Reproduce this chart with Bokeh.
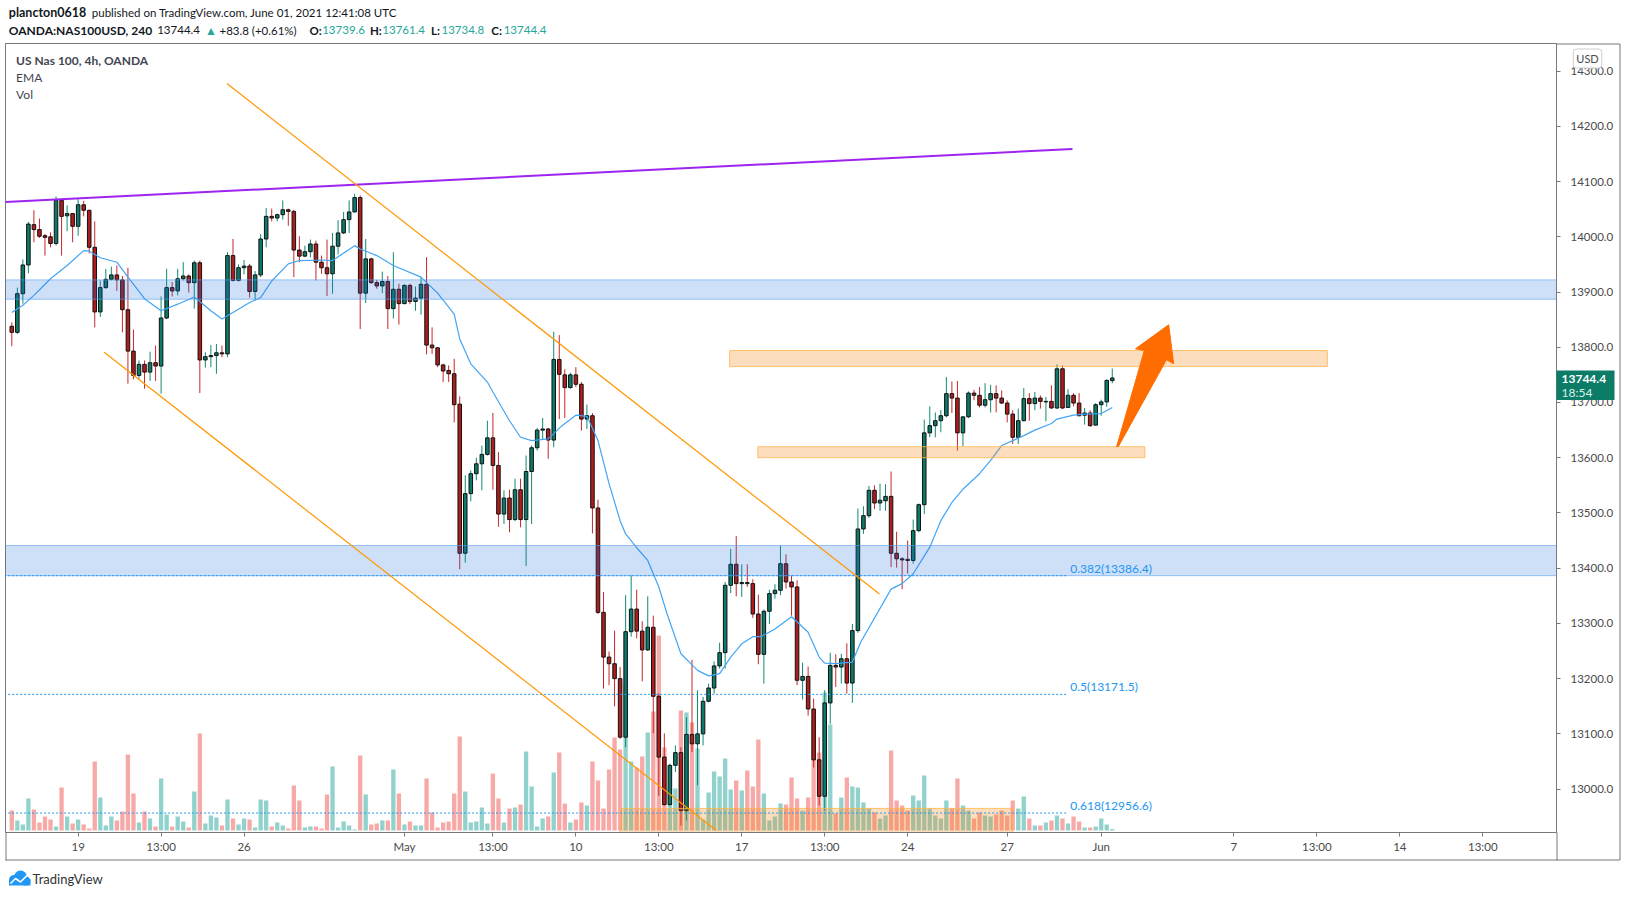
import numpy as np
from bokeh.plotting import figure
from bokeh.models import (Range1d, FixedTicker, PrintfTickFormatter, Label,
                          ColumnDataSource, GridBox)
from bokeh.embed import file_html
from bokeh.resources import INLINE

FONT = "Lato"

# ---------------- data (4h candles, 0-based bar index) ----------------
opens = [13838,13827,13897,13949,14022,14013,14002,14000,13988,14066,
         14038,14042,14019,14058,14048,13981,13864,13908,13923,13931,
         13922,13868,13793,13749,13769,13755,13772,13766,13853,13908,
         13902,13924,13929,13917,13953,13777,13783,13785,13790,13788,
         13966,13921,13944,13947,13901,13931,13996,14037,14034,14040,
         14049,14046,13976,13965,13973,13987,13954,13944,13933,13983,
         14007,14031,14045,14071,13898,13960,13917,13911,13919,13870,
         13905,13879,13912,13883,13889,13914,13804,13799,13768,13758,
         13752,13697,13427,13535,13571,13589,13606,13636,13586,13498,
         13527,13488,13542,13488,13575,13618,13650,13652,13632,13778,
         13750,13727,13750,13733,13670,13676,13509,13320,13239,13227,
         13200,13094,13285,13326,13286,13252,13293,13168,13058,12972,
         13043,13066,12961,13099,13082,13100,13159,13183,13223,13247,
         13369,13407,13372,13374,13372,13317,13244,13322,13354,13360,
         13408,13375,13366,13197,13204,13145,13053,12987,13156,13224,
         13221,13236,13192,13287,13471,13495,13541,13518,13522,13530,
         13427,13417,13416,13414,13468,13515,13645,13658,13667,13676,
         13716,13708,13645,13674,13717,13713,13695,13705,13716,13708,
         13699,13679,13637,13667,13707,13698,13708,13701,13702,13690,
         13761,13691,13713,13699,13677,13681,13659,13696,13701,13739.6]
highs = [13845,13908,13959,14027,14048,14033,14005,14008,14073,14067,
         14057,14043,14068,14065,14049,14028,13921,13942,13946,13948,
         13929,13944,13832,13776,13776,13792,13803,13892,13942,13918,
         13942,13954,13932,13957,13957,13791,13804,13806,13803,13972,
         13996,13950,13958,13951,13938,14005,14052,14051,14042,14066,
         14051,14049,14001,13984,13995,13993,13966,13995,14007,14030,
         14045,14066,14078,14075,13996,13962,13922,13937,13929,13972,
         13915,13914,13915,13910,13927,13963,13836,13800,13770,13767,
         13779,13711,13568,13577,13600,13622,13667,13681,13610,13541,
         13542,13562,13562,13604,13622,13654,13672,13654,13828,13822,
         13760,13754,13764,13737,13696,13681,13524,13357,13249,13287,
         13221,13351,13387,13361,13304,13349,13314,13173,13101,13046,
         13079,13076,13130,13234,13179,13167,13191,13231,13265,13375,
         13435,13458,13407,13407,13380,13352,13325,13361,13371,13441,
         13425,13387,13378,13229,13222,13164,13094,13179,13247,13244,
         13245,13264,13299,13508,13512,13549,13550,13553,13552,13575,
         13466,13420,13450,13488,13517,13669,13693,13682,13686,13746,
         13738,13739,13675,13720,13723,13728,13735,13732,13731,13722,
         13704,13686,13689,13726,13717,13719,13713,13710,13731,13769,
         13767,13724,13717,13717,13690,13686,13699,13705,13742,13761.4]
lows = [13802,13824,13879,13934,13990,13998,13966,13981,13984,13966,
        14010,13990,14002,14037,13970,13836,13855,13906,13921,13902,
        13827,13734,13742,13743,13725,13739,13739,13716,13851,13892,
        13894,13921,13899,13870,13717,13763,13764,13752,13782,13782,
        13919,13919,13932,13890,13885,13927,13981,14028,14028,14031,
        14020,13927,13954,13963,13963,13921,13933,13893,13897,13968,
        14005,14007,14044,13833,13880,13915,13906,13898,13833,13852,
        13841,13878,13878,13866,13859,13787,13788,13764,13737,13737,
        13664,13398,13410,13521,13559,13541,13604,13542,13475,13480,
        13465,13485,13474,13404,13480,13613,13634,13598,13619,13670,
        13672,13725,13728,13649,13652,13463,13317,13182,13188,13150,
        13091,13076,13276,13273,13195,13250,13101,12988,12970,12970,
        13031,12934,12943,13067,13007,13079,13157,13173,13218,13218,
        13355,13349,13348,13366,13310,13226,13191,13299,13345,13351,
        13363,13314,13188,13162,13133,13039,12970,12961,13118,13185,
        13191,13173,13156,13283,13462,13491,13507,13504,13504,13402,
        13401,13362,13390,13408,13465,13498,13637,13637,13646,13673,
        13681,13613,13621,13672,13704,13691,13691,13682,13682,13697,
        13664,13625,13625,13666,13667,13686,13689,13666,13689,13688,
        13688,13690,13693,13675,13660,13656,13658,13676,13692,13734.8]
closes = [13827,13897,13949,14023,14013,14001,13999,13988,14066,14037,
          14042,14019,14058,14048,13981,13864,13908,13923,13931,13922,
          13868,13793,13749,13769,13755,13772,13766,13853,13908,13902,
          13924,13929,13917,13953,13777,13783,13785,13790,13788,13966,
          13921,13944,13947,13901,13931,13996,14037,14034,14040,14049,
          14046,13976,13965,13973,13987,13954,13944,13933,13983,14007,
          14031,14045,14071,13898,13960,13917,13911,13919,13870,13905,
          13879,13912,13883,13889,13914,13804,13799,13768,13757,13752,
          13696,13427,13535,13571,13589,13606,13636,13586,13498,13527,
          13488,13542,13488,13575,13618,13650,13652,13632,13778,13751,
          13727,13750,13733,13670,13676,13509,13320,13239,13227,13200,
          13094,13285,13326,13286,13252,13293,13168,13058,12972,13043,
          13066,12961,13099,13082,13100,13159,13183,13223,13247,13369,
          13407,13372,13374,13372,13317,13244,13322,13354,13360,13408,
          13375,13366,13197,13204,13145,13053,12987,13156,13224,13221,
          13236,13192,13287,13471,13495,13541,13518,13523,13530,13427,
          13417,13415,13414,13468,13515,13645,13658,13667,13676,13716,
          13708,13645,13674,13717,13713,13695,13705,13716,13708,13699,
          13679,13637,13667,13707,13698,13708,13702,13702,13690,13761,
          13690,13713,13699,13676,13681,13658,13696,13701,13740,13744.4]
volumes = [2000,1000,600,3200,2100,800,1400,1100,400,4300,
           1400,700,1100,600,200,6900,3300,500,1400,1000,
           1900,7600,3700,800,1900,1200,400,5200,1600,400,
           1400,900,300,3900,9700,700,1500,1300,500,3100,
           1200,600,1200,1100,300,3100,3000,400,800,500,
           200,4500,3000,300,400,400,200,3600,6400,300,
           900,500,100,7500,3600,600,700,1000,1000,6100,
           3700,600,900,500,500,5200,1800,300,800,900,
           3700,9400,3900,800,900,2300,700,5700,3200,800,
           2200,2300,2600,7900,4400,400,1200,1400,5800,7800,
           2700,800,1100,2800,2500,6900,5000,2200,6100,9300,
           8100,14500,6900,6300,7400,9800,11900,19500,8300,4200,
           4200,12000,11800,10800,8200,1100,3800,5900,5400,7200,
           4100,5000,4000,6000,4400,9100,3700,1000,1400,2700,
           2600,5300,3200,2000,3300,11100,7800,13800,10600,1700,
           3300,5300,4400,4300,2800,2200,1800,1200,1500,8000,
           3000,2500,2000,3500,3000,5500,2200,1500,1200,3000,
           2200,5200,2500,2000,1200,1800,1500,1400,1600,2000,
           1500,3000,2200,3400,1200,500,500,800,1000,1500,
           1200,700,1400,900,300,300,400,1200,600,150]

# EMA line, read at sample bars
ema_idx = [0,2,4,7,10,13,14,16,19,21,24,27,30,33,36,38,40,43,45,47,50,52,56,58,
           62,63,66,69,74,77,80,81,83,86,87,90,92,94,97,99.5,102,104,106,108,
           110,111,113,115,117,118.5,121,124,126,128,130,132,134,135.5,138,141,
           144,146,147,149,152,153.5,159,161,163,166,168,170,172,175,177,179,
           181,183,185,188,189,192,194,197,199]
ema_val = [13863,13876,13894,13924,13948,13975,13974,13962,13954,13927,13888,13866,
           13878,13891,13866,13851,13863,13881,13890,13920,13951,13957,13958,13957,
           13984,13978,13966,13948,13927,13898,13860,13815,13770,13737,13719,13667,
           13637,13631,13634,13658,13677,13675,13631,13553,13486,13462,13437,13414,
           13366,13317,13245,13215,13205,13209,13239,13263,13276,13276,13290,13312,
           13284,13239,13228,13227,13230,13266,13362,13372,13390,13438,13486,13519,
           13543,13571,13595,13622,13631,13640,13650,13662,13670,13677,13679,13680,
           13691]

# time axis
tick_idx = [12, 27, 42, 71, 87, 102, 117, 132, 147, 162, 180, 197, 221, 236, 251, 266]
tick_lab = ["19", "13:00", "26", "May", "13:00", "10", "13:00", "17", "13:00", "24",
            "27", "Jun", "7", "13:00", "14", "13:00"]
price_ticks = [13000, 13100, 13200, 13300, 13400, 13500, 13600, 13700, 13800, 13900,
               14000, 14100, 14200, 14300]
last_price, countdown = "13744.4", "18:54"

# drawings (bar index, price)
purple_x, purple_y = [-1.14, 191.8], [14063, 14159]
chan_up_x, chan_up_y = [38.9, 156.9], [14277.6, 13353.3]
chan_lo_x, chan_lo_y = [16.7, 127.4], [13791, 12925]
blue_zones = [(13887, 13922), (13386.4, 13441)]
orange_zones = [(129.8, 237.9, 13765, 13794), (134.9, 204.9, 13600, 13620),
                (110.0, 181.0, 12900, 12965)]
fib_levels = [0.382, 0.5, 0.618]
fib_prices = [13386.4, 13171.5, 12956.6]
fib_end = 190.9
arrow_x = [199.8, 204.8, 203.2, 209.2, 210.1, 208.8, 200.1]
arrow_y = [13620.3, 13794.1, 13797.2, 13840.7, 13770.1, 13777.3, 13620.3]

W, H = 1627, 897

# ---------------- main chart ----------------
p = figure(frame_width=1551, frame_height=789, min_border_left=5, min_border_right=71,
           min_border_top=43, min_border_bottom=65,
           x_range=Range1d(-1.139, 279.33), y_range=Range1d(12921.4, 14350),
           y_axis_location="right", output_backend="svg", toolbar_location=None,
           background_fill_color="white", border_fill_color="white")
p.extra_y_ranges = {"vol": Range1d(-200, 78700)}
p.grid.visible = False
p.outline_line_color = "#787878"
p.outline_line_width = 1

idx = np.arange(len(opens))
o, h, l, c = map(np.array, (opens, highs, lows, closes))
up = c >= o
src = ColumnDataSource(dict(
    x=idx, o=o, h=h, l=l, c=c,
    top=np.maximum(o, c), bot=np.minimum(o, c),
    body=np.where(up, "#0a7b6a", "#b01c1c"),
    wick=np.where(up, "#0f8a72", "#c62828"),
    vol=np.array(volumes), vcol=np.where(up, "#92d2cc", "#f7a9a7")))

p.vbar(x="x", width=0.78, top="vol", bottom=0, y_range_name="vol", source=src,
       fill_color="vcol", line_color=None)
p.segment(x0="x", y0="l", x1="x", y1="h", color="wick", line_width=1, source=src)
p.vbar(x="x", width=0.64, top="top", bottom="bot", fill_color="body",
       line_color="#111111", line_width=1, source=src)
p.line(ema_idx, ema_val, color="#42a5f5", line_width=1.2)

for lo_, hi_ in blue_zones:
    p.quad(left=-5, right=300, bottom=lo_, top=hi_, fill_color="#1e6fe0", fill_alpha=0.22,
           line_color="#5aa2f0", line_alpha=0.6, line_width=1)
for x0, x1, lo_, hi_ in orange_zones:
    p.quad(left=x0, right=x1, bottom=lo_, top=hi_, fill_color="#f57c00", fill_alpha=0.25,
           line_color="#ffb74d", line_alpha=0.8, line_width=1)

for lev, pr in zip(fib_levels, fib_prices):
    p.line([-5, fib_end], [pr, pr], color="#2196f3", line_width=1, line_dash="2 2")
    p.add_layout(Label(x=fib_end + 0.5, y=pr, text=f"{lev}({pr})", text_font=FONT,
                       text_font_size="12px", text_color="#2196f3",
                       text_baseline="middle", y_offset=7.5))

p.line(purple_x, purple_y, color="#9e24f0", line_width=2)
p.line(chan_up_x, chan_up_y, color="#ff9800", line_width=1.2)
p.line(chan_lo_x, chan_lo_y, color="#ff9800", line_width=1.2)
p.patch(arrow_x, arrow_y, fill_color="#ff6d00", line_color="#ff6d00", line_width=1)

ya = p.yaxis[0]
ya.ticker = FixedTicker(ticks=price_ticks)
ya.formatter = PrintfTickFormatter(format="%.1f")
ya.major_label_text_font = FONT
ya.major_label_text_font_size = "11.5px"
ya.major_label_text_color = "#4a4a4a"
ya.major_tick_out = 4
ya.major_tick_in = 0
ya.minor_tick_out = 0
ya.minor_tick_in = 0
ya.major_tick_line_color = "#787878"
ya.axis_line_color = "#787878"
ya.major_label_standoff = 10

xa = p.xaxis[0]
xa.ticker = FixedTicker(ticks=tick_idx)
xa.major_label_overrides = {t: s for t, s in zip(tick_idx, tick_lab)}
xa.major_label_text_font = FONT
xa.major_label_text_font_size = "11.5px"
xa.major_label_text_color = "#4a4a4a"
xa.major_tick_out = 4
xa.major_tick_in = 0
xa.minor_tick_out = 0
xa.minor_tick_in = 0
xa.major_tick_line_color = "#787878"
xa.axis_line_color = "#787878"
xa.major_label_standoff = 3

FL, FB = 5, 832
for X, Y, s, st in [(15.6, 60, "US Nas 100, 4h, OANDA", "bold"),
                    (15.6, 77, "EMA", "normal"), (15.6, 93.5, "Vol", "normal")]:
    p.add_layout(Label(x=X - FL, y=FB - Y, x_units="screen", y_units="screen", text=s,
                       text_font=FONT, text_font_size="12px", text_color="#434651",
                       text_font_style=st, text_baseline="middle"))

# ---------------- page overlay (header, footer, price-axis tag, borders) ----------------
ov = figure(frame_width=W, frame_height=H, min_border=0, x_range=Range1d(0, W),
            y_range=Range1d(H, 0), x_axis_type=None, y_axis_type=None,
            output_backend="svg", toolbar_location=None,
            background_fill_color=None, border_fill_color=None)
ov.outline_line_color = None
ov.grid.visible = False
for fig in (p, ov):
    if "frame_align" in fig.properties():
        fig.frame_align = False

# border lines around the axis areas
ov.multi_line(xs=[[1556, 1619.5], [1619.5, 1619.5], [5, 1619.5], [5.5, 5.5], [1556.5, 1556.5]],
              ys=[[43.5, 43.5], [43.5, 859.5], [859.5, 859.5], [832, 860], [832, 860]],
              line_color="#787878", line_width=1)

# last-price tag
ov.quad(left=1556, right=1614, top=370, bottom=399.5, fill_color="#0c7c67", line_color=None)


def txt(X, Y, s, size="12px", color="#222222", bold=False, align="left", **kw):
    ov.add_layout(Label(x=X, y=Y, text=s, text_font=FONT, text_font_size=size,
                        text_color=color, text_font_style="bold" if bold else "normal",
                        text_align=align, text_baseline="middle", **kw))


txt(1561, 378, last_price, "12px", "#ffffff", True)
txt(1561, 392, countdown, "12px", "#d8efe9")
txt(1587, 58, "USD", "11px", "#4a4a4a", False, "center",
    background_fill_color="white", border_line_color="#cfcfcf", border_line_width=1,
    padding=3, border_radius=3)

TEAL = "#26a69a"
txt(8.3, 12, "plancton0618", "12.5px", "#131722", True)
txt(91.3, 12, "published on TradingView.com, June 01, 2021 12:41:08 UTC", "11.5px", "#131722")
txt(8.3, 29.5, "OANDA:NAS100USD, 240", "12px", "#131722", True)
txt(156.7, 29.5, "13744.4", "11.5px", "#131722")
txt(204.4, 29.5, "▲", "12px", TEAL)
txt(219, 29.5, "+83.8 (+0.61%)", "11.5px", "#131722")
txt(309, 29.5, "O:", "11.5px", "#131722", True)
txt(321.7, 29.5, "13739.6", "11.5px", TEAL)
txt(369.4, 29.5, "H:", "11.5px", "#131722", True)
txt(381.8, 29.5, "13761.4", "11.5px", TEAL)
txt(430.6, 29.5, "L:", "11.5px", "#131722", True)
txt(441, 29.5, "13734.8", "11.5px", TEAL)
txt(490.8, 29.5, "C:", "11.5px", "#131722", True)
txt(503.2, 29.5, "13744.4", "11.5px", TEAL)

# footer logo + wordmark
ov.circle(x=[13.5, 20, 25.5], y=[879.5, 876.5, 880.5], radius=[5, 6.5, 4.5],
          fill_color="#2196f3", line_color=None)
ov.quad(left=8.5, right=30, top=879, bottom=885, fill_color="#2196f3", line_color=None)
ov.line([10, 15, 20, 27], [883, 878, 881.5, 874.5], line_color="white", line_width=1.6)
txt(32, 878, "TradingView", "13px", "#333333")

layout = GridBox(children=[(p, 0, 0), (ov, 0, 0)])
open("out.html", "w").write(file_html(layout, INLINE))
